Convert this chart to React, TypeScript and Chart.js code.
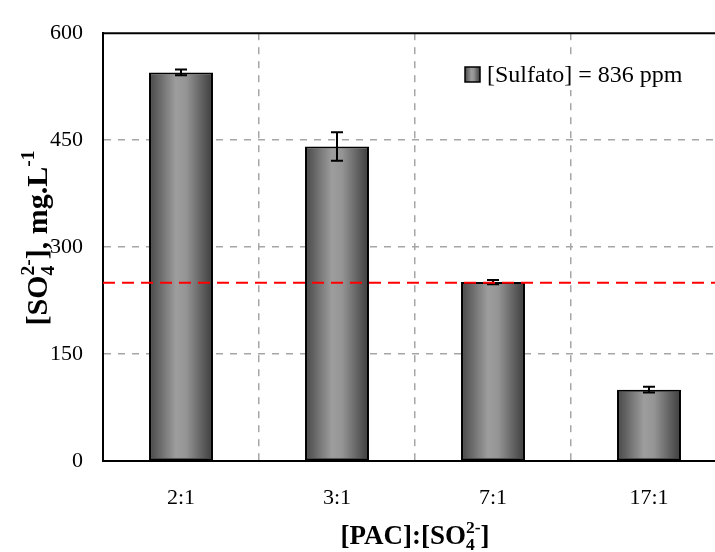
import React, { useEffect, useRef } from "react";
import { Chart, registerables } from "chart.js";

Chart.register(...registerables);

// ---- data ----
const categories = ["2:1", "3:1", "7:1", "17:1"];
const sulfateValues = [545, 441, 251, 100];
const sulfateErrors = [4, 20, 3, 4];
const limitValue = 250;
const yTickValues = [0, 150, 300, 450, 600];
const seriesLabel = "[Sulfato] = 836 ppm";

const FONT = '"Liberation Serif", "Times New Roman", serif';
const BAR_PCT = 0.41;

type Seg = { n?: string; sub?: string; sup?: string };
const xTitleSegs: Seg[] = [{ n: "[PAC]:[SO" }, { sub: "4", sup: "2-" }, { n: "]" }];
const yTitleSegs: Seg[] = [{ n: "[SO" }, { sub: "4", sup: "2-" }, { n: "], mg.L" }, { sup: "-1" }];

function barGradient(ctx: CanvasRenderingContext2D, x0: number, x1: number) {
  if (!isFinite(x0) || !isFinite(x1) || x1 <= x0) return "#7a7a7a";
  const g = ctx.createLinearGradient(x0, 0, x1, 0);
  g.addColorStop(0, "#474747");
  g.addColorStop(0.42, "#9d9d9d");
  g.addColorStop(0.58, "#959595");
  g.addColorStop(1, "#3c3c3c");
  return g;
}

function segWidth(ctx: CanvasRenderingContext2D, s: Seg, size: number) {
  if (s.n) {
    ctx.font = `bold ${size}px ${FONT}`;
    return ctx.measureText(s.n).width;
  }
  ctx.font = `bold ${size * 0.65}px ${FONT}`;
  const a = s.sub ? ctx.measureText(s.sub).width : 0;
  const b = s.sup ? ctx.measureText(s.sup).width : 0;
  return Math.max(a, b);
}

function drawRich(ctx: CanvasRenderingContext2D, segs: Seg[], size: number, cx: number, baseY: number) {
  const total = segs.reduce((acc, s) => acc + segWidth(ctx, s, size), 0);
  let x = cx - total / 2;
  ctx.fillStyle = "#000";
  ctx.textAlign = "left";
  ctx.textBaseline = "alphabetic";
  for (const s of segs) {
    const w = segWidth(ctx, s, size);
    if (s.n) {
      ctx.font = `bold ${size}px ${FONT}`;
      ctx.fillText(s.n, x, baseY);
    } else {
      ctx.font = `bold ${size * 0.65}px ${FONT}`;
      if (s.sub) ctx.fillText(s.sub, x, baseY + size * 0.22);
      if (s.sup) ctx.fillText(s.sup, x, baseY - size * 0.42);
    }
    x += w;
  }
}

const decorPlugin = {
  id: "decor",
  afterDatasetsDraw(chart: any) {
    const { ctx, chartArea, scales } = chart;
    const ys = scales.y;
    const meta = chart.getDatasetMeta(0);
    ctx.save();
    ctx.strokeStyle = "#000";
    ctx.lineWidth = 2;
    ctx.setLineDash([]);
    meta.data.forEach((bar: any, i: number) => {
      const v = sulfateValues[i];
      const e = sulfateErrors[i];
      const yt = ys.getPixelForValue(v + e);
      const yb = ys.getPixelForValue(v - e);
      const cap = 6;
      ctx.beginPath();
      ctx.moveTo(bar.x, yt);
      ctx.lineTo(bar.x, yb);
      ctx.moveTo(bar.x - cap, yt);
      ctx.lineTo(bar.x + cap, yt);
      ctx.moveTo(bar.x - cap, yb);
      ctx.lineTo(bar.x + cap, yb);
      ctx.stroke();
    });
    const yl = ys.getPixelForValue(limitValue);
    ctx.strokeStyle = "#ff0000";
    ctx.lineWidth = 2;
    ctx.setLineDash([12, 7]);
    ctx.beginPath();
    ctx.moveTo(chartArea.left, yl);
    ctx.lineTo(chartArea.right, yl);
    ctx.stroke();
    ctx.setLineDash([]);
    ctx.strokeStyle = "#000";
    ctx.lineWidth = 2;
    ctx.beginPath();
    ctx.moveTo(chartArea.left, chartArea.top);
    ctx.lineTo(chartArea.right, chartArea.top);
    ctx.stroke();
    ctx.restore();
  },
  afterDraw(chart: any) {
    const { ctx, chartArea } = chart;
    ctx.save();
    // legend (white backing so gridlines don't cross it)
    const mx = 465, my = 67, ms = 15;
    ctx.fillStyle = "#fff";
    ctx.font = `24px ${FONT}`;
    const label = chart.data.datasets[0].label;
    const tw = ctx.measureText(label).width;
    ctx.fillRect(mx - 6, my - 8, ms + 7 + tw + 12, ms + 16);
    ctx.fillStyle = barGradient(ctx, mx, mx + ms);
    ctx.fillRect(mx, my, ms, ms);
    ctx.strokeStyle = "#000";
    ctx.lineWidth = 1.5;
    ctx.strokeRect(mx, my, ms, ms);
    ctx.fillStyle = "#000";
    ctx.textAlign = "left";
    ctx.textBaseline = "middle";
    ctx.fillText(label, mx + ms + 7, my + ms / 2 + 1);
    // axis titles
    const xCenter = (chartArea.left + chartArea.right) / 2;
    drawRich(ctx, xTitleSegs, 27, xCenter, 544);
    ctx.save();
    ctx.translate(38, 238);
    ctx.rotate(-Math.PI / 2);
    drawRich(ctx, yTitleSegs, 30, 0, 9);
    ctx.restore();
    ctx.restore();
  },
};

export default function App() {
  const ref = useRef<HTMLCanvasElement | null>(null);
  useEffect(() => {
    document.body.style.margin = "0";
    const canvas = ref.current;
    if (!canvas) return;
    const chart = new Chart(canvas, {
      type: "bar",
      data: {
        labels: categories,
        datasets: [
          {
            label: seriesLabel,
            data: sulfateValues,
            backgroundColor: (c: any) => {
              const xs = c.chart.scales?.x;
              if (!xs || c.dataIndex == null) return "#7a7a7a";
              const center = xs.getPixelForValue(c.dataIndex);
              const w = (xs.width / categories.length) * BAR_PCT;
              return barGradient(c.chart.ctx, center - w / 2, center + w / 2);
            },
            borderColor: "#000",
            borderWidth: 2,
            borderSkipped: false,
            barPercentage: BAR_PCT,
            categoryPercentage: 1,
          },
        ],
      },
      options: {
        animation: false,
        responsive: false,
        maintainAspectRatio: false,
        layout: { padding: { top: 25, right: 13, left: 0, bottom: 0 } },
        plugins: { legend: { display: false }, tooltip: { enabled: false } },
        scales: {
          x: {
            offset: true,
            grid: {
              offset: true,
              drawTicks: false,
              color: (c: any) => (c.index === 0 ? "rgba(0,0,0,0)" : "#a6a6a6"),
              lineWidth: 1.5,
            },
            border: { display: true, color: "#000", width: 2, dash: [7, 7] },
            ticks: {
              color: "#000",
              font: { family: FONT, size: 22 },
              padding: 24,
            },
            afterFit: (s: any) => {
              s.height = 91;
            },
          },
          y: {
            min: 0,
            max: 600,
            afterBuildTicks: (s: any) => {
              s.ticks = yTickValues.map((v) => ({ value: v }));
            },
            grid: {
              drawTicks: false,
              color: (c: any) =>
                c.tick && (c.tick.value === 0 || c.tick.value === 600) ? "rgba(0,0,0,0)" : "#a6a6a6",
              lineWidth: 1.5,
            },
            border: { display: true, color: "#000", width: 2, dash: [7, 7] },
            ticks: {
              color: "#000",
              font: { family: FONT, size: 22 },
              padding: 20,
            },
            afterFit: (s: any) => {
              s.width = 103;
            },
          },
        },
      },
      plugins: [decorPlugin],
    });
    return () => chart.destroy();
  }, []);
  return (
    <div style={{ width: 715, height: 552, overflow: "hidden", position: "relative" }}>
      <canvas ref={ref} width={740} height={552} style={{ display: "block", width: 740, height: 552 }} />
    </div>
  );
}
